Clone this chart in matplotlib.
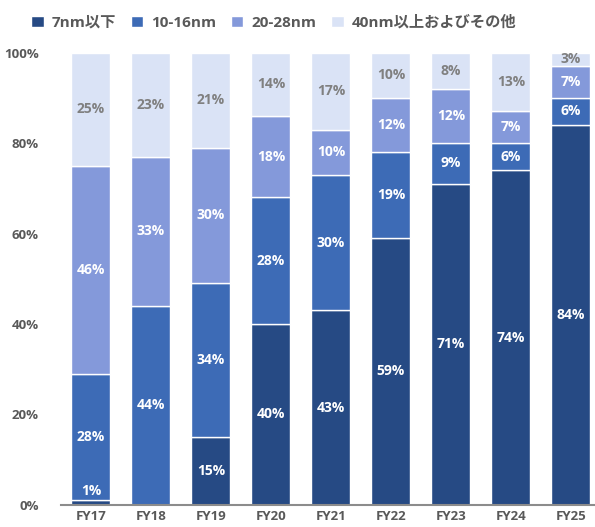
import numpy as np
import matplotlib.pyplot as plt

plt.rcParams['font.family'] = ['Open Sans', 'Noto Sans CJK JP', 'DejaVu Sans']

years = ['FY17', 'FY18', 'FY19', 'FY20', 'FY21', 'FY22', 'FY23', 'FY24', 'FY25']
series_names = ['7nm以下', '10-16nm', '20-28nm', '40nm以上およびその他']
nm7 = [1, 0, 15, 40, 43, 59, 71, 74, 84]
nm10_16 = [28, 44, 34, 28, 30, 19, 9, 6, 6]
nm20_28 = [46, 33, 30, 18, 10, 12, 12, 7, 7]
nm40_other = [25, 23, 21, 14, 17, 10, 8, 13, 3]

colors = ['#264A84', '#3D6BB6', '#8499DA', '#DAE3F6']
label_colors = ['white', 'white', 'white', '#808080']

fig = plt.figure(figsize=(5.95, 5.27), dpi=100, facecolor='w')
ax = fig.add_axes([0.1025, 0.042, 0.8975, 0.858])

x = np.arange(len(years))
bottom = np.zeros(len(years))
for name, vals, col, lcol in zip(series_names, [nm7, nm10_16, nm20_28, nm40_other], colors, label_colors):
    vals = np.array(vals, dtype=float)
    ax.bar(x, vals, 0.65, bottom=bottom, color=col, edgecolor='white', linewidth=1.0, label=name)
    for i, v in enumerate(vals):
        if v <= 0:
            continue
        if v < 3:
            ypos = bottom[i] + v + 2.0
        else:
            ypos = bottom[i] + v / 2
        ax.text(x[i], ypos, '%d%%' % v, ha='center', va='center', color=lcol,
                fontsize=10, fontweight='bold')
    bottom += vals

ax.set_xlim(-0.5, 8.4)
ax.set_ylim(0, 100)
ax.set_yticks([0, 20, 40, 60, 80, 100])
ax.set_yticklabels(['0%', '20%', '40%', '60%', '80%', '100%'])
ax.set_xticks(x)
ax.set_xticklabels(years)
for lab in ax.get_xticklabels() + ax.get_yticklabels():
    lab.set_fontweight('bold')
    lab.set_color('#595959')
    lab.set_fontsize(9.5)
ax.tick_params(axis='both', length=0)
ax.tick_params(axis='y', pad=16)
ax.tick_params(axis='x', pad=4)
for s in ['top', 'right', 'left']:
    ax.spines[s].set_visible(False)
ax.spines['bottom'].set_color('#8C8C8C')
ax.spines['bottom'].set_linewidth(1.5)

lgd = fig.legend(loc='center', bbox_to_anchor=(0.46, 0.957), ncol=4, frameon=False,
                 handlelength=0.8, handleheight=0.8, handletextpad=0.5, columnspacing=1.0,
                 prop={'size': 11, 'weight': 'bold'})
for t in lgd.get_texts():
    t.set_color('#595959')

plt.savefig('out.png', dpi=100, facecolor='w')
